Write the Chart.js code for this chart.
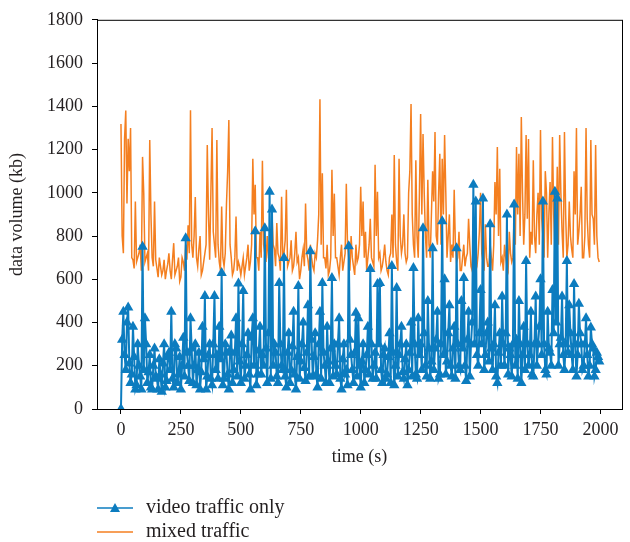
<!DOCTYPE html>
<html lang="en">
<head>
<meta charset="UTF-8">
<script src="https://cdn.jsdelivr.net/npm/chart.js@4.4.0/dist/chart.umd.min.js"></script>
<title>data volume</title>
<style>
  body { margin: 0; background: #fff; }
</style>
</head>
<body>
<canvas id="myChart" width="630" height="542"></canvas>
<script>
// sampled every 5 s, one row = 100 s
const STEP = 5;

// video traffic only (kb)
const videoTraffic = [
  0, 320, 450, 250, 180, 400, 470, 210, 120, 160, 380, 240, 90, 110, 300, 200, 150, 90, 750, 180,
  420, 300, 120, 170, 250, 100, 90, 200, 280, 150, 140, 90, 230, 160, 80, 210, 300, 100, 130, 240,
  260, 180, 450, 140, 100, 300, 280, 120, 160, 240, 90, 200, 330, 150, 790, 260, 200, 130, 420, 280,
  120, 200, 300, 110, 180, 260, 90, 170, 380, 230, 523, 90, 150, 250, 300, 140, 110, 300, 523, 180,
  250, 140, 380, 230, 629, 110, 140, 300, 260, 160, 90, 270, 340, 120, 180, 260, 420, 150, 580, 220,
  120, 300, 546, 140, 200, 250, 350, 160, 90, 330, 420, 200, 822, 110, 160, 270, 380, 160, 250, 200,
  836, 280, 120, 350, 1005, 140, 923, 200, 300, 260, 150, 120, 583, 300, 200, 180, 698, 150, 100, 260,
  350, 120, 180, 290, 450, 160, 90, 240, 569, 140, 220, 300, 400, 190, 130, 260, 480, 150, 730, 320,
  150, 240, 350, 160, 100, 300, 450, 140, 583, 260, 200, 120, 380, 220, 120, 280, 606, 150, 300, 200,
  160, 300, 420, 140, 90, 230, 300, 160, 180, 110, 753, 320, 250, 180, 120, 260, 445, 150, 420, 200,
  100, 220, 300, 120, 180, 250, 380, 160, 647, 300, 140, 200, 260, 140, 578, 300, 583, 180, 120, 250,
  280, 140, 160, 240, 350, 120, 661, 260, 110, 200, 560, 150, 250, 300, 380, 170, 140, 230, 300, 110,
  180, 260, 400, 150, 652, 300, 160, 140, 420, 250, 300, 180, 836, 350, 200, 150, 500, 280, 140, 220,
  744, 180, 280, 320, 450, 140, 160, 300, 868, 250, 600, 160, 220, 350, 480, 200, 150, 280, 380, 140,
  744, 300, 200, 180, 500, 280, 606, 200, 130, 320, 450, 150, 300, 400, 1037, 300, 960, 250, 200, 350,
  550, 300, 973, 180, 250, 350, 400, 220, 854, 280, 180, 300, 480, 150, 120, 260, 350, 200, 520, 300,
  200, 350, 900, 160, 280, 250, 150, 300, 946, 200, 320, 140, 500, 300, 120, 250, 380, 180, 684, 300,
  200, 250, 450, 160, 150, 300, 520, 200, 300, 380, 600, 250, 960, 300, 180, 160, 450, 280, 260, 200,
  550, 350, 1005, 400, 973, 200, 300, 330, 520, 250, 180, 300, 684, 260, 480, 350, 250, 180, 578, 300,
  150, 250, 487, 350, 300, 180, 200, 300, 420, 250, 150, 200, 377, 300, 280, 150, 180, 260, 240, 220
];

// mixed traffic (kb)
const mixedTraffic = [
  1318, 800, 720, 1250, 1380, 950, 1250, 1100, 1300, 700, 690, 650, 960, 680, 700, 720, 760, 640, 1166, 1000,
  680, 700, 720, 640, 1244, 900, 700, 660, 960, 690, 650, 610, 700, 660, 620, 640, 690, 600, 640, 670,
  720, 640, 600, 690, 767, 620, 640, 660, 700, 590, 610, 700, 680, 640, 760, 690, 850, 720, 1382, 760,
  700, 800, 980, 700, 660, 740, 800, 620, 640, 680, 720, 760, 1221, 900, 690, 1000, 1300, 820, 760, 700,
  1244, 760, 680, 640, 937, 700, 660, 720, 946, 1100, 1336, 760, 700, 620, 640, 700, 890, 640, 680, 660,
  620, 660, 700, 620, 660, 700, 760, 640, 680, 760, 1157, 900, 1037, 700, 700, 640, 820, 700, 1148, 760,
  720, 680, 800, 700, 680, 620, 900, 760, 740, 660, 860, 720, 700, 640, 982, 700, 720, 780, 1014, 660,
  680, 700, 780, 640, 660, 720, 820, 680, 700, 600, 640, 700, 740, 660, 950, 720, 690, 640, 760, 700,
  660, 640, 720, 700, 780, 900, 1432, 760, 1090, 700, 700, 650, 760, 620, 640, 700, 1106, 800, 996, 700,
  700, 660, 620, 700, 760, 640, 680, 720, 1042, 760, 700, 640, 800, 700, 660, 620, 760, 680, 700, 760,
  1028, 800, 960, 700, 820, 640, 700, 760, 880, 700, 680, 660, 1130, 800, 1005, 700, 720, 640, 660, 700,
  760, 680, 640, 620, 700, 720, 900, 700, 1175, 760, 680, 640, 1157, 800, 720, 760, 900, 720, 680, 700,
  1000, 1100, 1410, 900, 760, 700, 1150, 800, 700, 1000, 1364, 900, 1272, 1000, 800, 700, 1060, 760, 700, 900,
  1100, 960, 1281, 800, 760, 1000, 1180, 760, 1157, 900, 1267, 1000, 700, 800, 900, 680, 760, 700, 1014, 760,
  680, 700, 820, 640, 640, 700, 760, 660, 700, 720, 880, 760, 660, 640, 800, 700, 640, 660, 720, 820,
  1000, 720, 680, 640, 854, 700, 660, 660, 760, 700, 640, 760, 1050, 900, 1212, 800, 1111, 680, 700, 640,
  760, 700, 660, 640, 820, 720, 680, 700, 900, 760, 1212, 900, 1180, 800, 1350, 1000, 760, 900, 1267, 880,
  1249, 700, 820, 760, 1150, 800, 720, 900, 1000, 760, 1290, 880, 800, 700, 1100, 1000, 700, 900, 1050, 760,
  1258, 900, 760, 800, 1120, 760, 1267, 1000, 820, 700, 1281, 900, 700, 760, 960, 800, 740, 700, 1100, 900,
  1300, 760, 820, 900, 1028, 700, 700, 800, 1300, 880, 760, 700, 1244, 900, 880, 760, 1221, 800, 700, 680
];

const xTicks = [0, 250, 500, 750, 1000, 1250, 1500, 1750, 2000];
const yTicks = [0, 200, 400, 600, 800, 1000, 1200, 1400, 1600, 1800];

const BLUE = '#0c7cbf';
const ORANGE = '#f47f20';
const FONT = "'Liberation Serif', 'DejaVu Serif', serif";
const TEXT = '#231f20';

function toPoints(vals) {
  return vals.map((v, i) => ({ x: i * STEP, y: v }));
}

// box round the plot + legend under the x axis
const extras = {
  id: 'extras',
  afterDraw(chart) {
    const ctx = chart.ctx;
    const a = chart.chartArea;
    ctx.save();
    ctx.strokeStyle = '#000';
    ctx.lineWidth = 1;
    ctx.strokeRect(a.left + 0.5, a.top + 0.5, a.right - a.left, a.bottom - a.top);

    // legend
    const rows = [
      { y: 508, color: BLUE, label: 'video traffic only', marker: true },
      { y: 532, color: ORANGE, label: 'mixed traffic', marker: false }
    ];
    ctx.font = '20px ' + FONT;
    ctx.textBaseline = 'middle';
    rows.forEach(r => {
      ctx.strokeStyle = r.color;
      ctx.lineWidth = 1.5;
      ctx.beginPath();
      ctx.moveTo(97, r.y);
      ctx.lineTo(133, r.y);
      ctx.stroke();
      if (r.marker) {
        ctx.fillStyle = r.color;
        ctx.beginPath();
        ctx.moveTo(115, r.y - 5);
        ctx.lineTo(120, r.y + 4);
        ctx.lineTo(110, r.y + 4);
        ctx.closePath();
        ctx.fill();
      }
      ctx.fillStyle = TEXT;
      ctx.fillText(r.label, 146, r.y);
    });
    ctx.restore();
  }
};

const ctx = document.getElementById('myChart').getContext('2d');
new Chart(ctx, {
  type: 'line',
  data: {
    datasets: [
      {
        label: 'video traffic only',
        data: toPoints(videoTraffic),
        borderColor: BLUE,
        backgroundColor: BLUE,
        borderWidth: 2,
        pointStyle: 'triangle',
        pointRadius: 6,
        pointBorderWidth: 0,
        pointBackgroundColor: BLUE,
        tension: 0
      },
      {
        label: 'mixed traffic',
        data: toPoints(mixedTraffic),
        borderColor: ORANGE,
        borderWidth: 1.5,
        pointRadius: 0,
        tension: 0
      }
    ]
  },
  options: {
    responsive: false,
    animation: false,
    layout: { padding: { top: 17, right: 8, bottom: 70, left: 0 } },
    plugins: {
      legend: { display: false },
      tooltip: { enabled: false }
    },
    scales: {
      x: {
        type: 'linear',
        min: -100,
        max: 2090,
        afterBuildTicks(scale) { scale.ticks = xTicks.map(v => ({ value: v })); },
        afterFit(scale) { scale.height = 63; },
        grid: { drawOnChartArea: false, tickLength: 5, color: '#000' },
        border: { color: '#000' },
        ticks: { font: { family: FONT, size: 18 }, color: TEXT, padding: 5, maxRotation: 0, callback: v => String(v) },
        title: { display: true, text: 'time (s)', font: { family: FONT, size: 18 }, color: TEXT, padding: { top: 8 } }
      },
      y: {
        min: 0,
        max: 1800,
        afterBuildTicks(scale) { scale.ticks = yTicks.map(v => ({ value: v })); },
        afterFit(scale) { scale.width = 97; },
        grid: { drawOnChartArea: false, tickLength: 5, color: '#000' },
        border: { color: '#000' },
        ticks: { font: { family: FONT, size: 18 }, color: TEXT, padding: 9, callback: v => String(v) },
        title: { display: true, text: 'data volume (kb)', font: { family: FONT, size: 18 }, color: TEXT, padding: { top: 6, bottom: 0 } }
      }
    }
  },
  plugins: [extras]
});
</script>
</body>
</html>
